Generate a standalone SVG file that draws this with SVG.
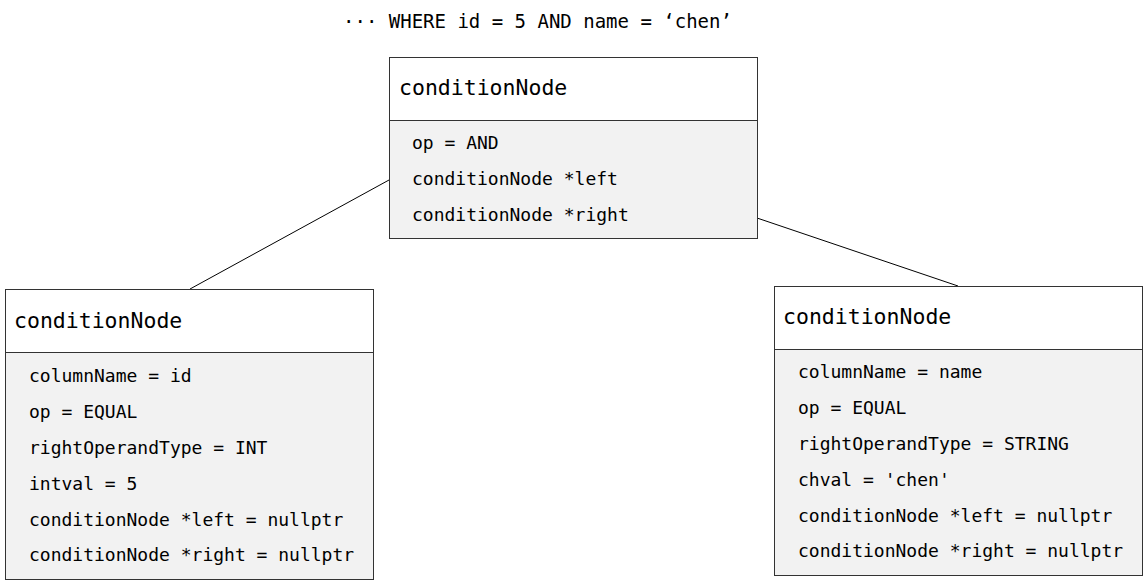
<svg xmlns="http://www.w3.org/2000/svg" width="1144" height="580" viewBox="0 0 1144 580">
<style>
text{font-family:"DejaVu Sans Mono","Liberation Mono",monospace;fill:#000}
.h{font-size:21.5px}
.b{font-size:18px}
.hd{fill:#fff;stroke:#333;stroke-width:1}
.bd{fill:#f2f2f2;stroke:#333;stroke-width:1}
.c{stroke:#000;stroke-width:1;fill:none}
</style>
<rect width="1144" height="580" fill="#fff"/>
<text class="b" x="343" y="28" style="font-size:19px">··· WHERE id = 5 AND name =  ‘chen’</text>
<g id="connectors">
<line class="c" x1="389" y1="180" x2="190" y2="289"/>
<line class="c" x1="757" y1="218" x2="958" y2="286"/>
</g>
<g id="root">
<rect class="hd" x="389.5" y="57.5" width="368" height="63"/>
<rect class="bd" x="389.5" y="120.5" width="368" height="118"/>
<text class="h" x="399" y="95">conditionNode</text>
<text class="b" x="412" y="149">op = AND</text>
<text class="b" x="412" y="185">conditionNode *left</text>
<text class="b" x="412" y="221">conditionNode *right</text>
</g>
<g id="left">
<rect class="hd" x="5.5" y="289.5" width="368" height="63"/>
<rect class="bd" x="5.5" y="352.5" width="368" height="227"/>
<text class="h" x="14" y="328">conditionNode</text>
<text class="b" x="29" y="382">columnName = id</text>
<text class="b" x="29" y="418">op = EQUAL</text>
<text class="b" x="29" y="454">rightOperandType = INT</text>
<text class="b" x="29" y="490">intval = 5</text>
<text class="b" x="29" y="526">conditionNode *left = nullptr</text>
<text class="b" x="29" y="561">conditionNode *right = nullptr</text>
</g>
<g id="right">
<rect class="hd" x="774.5" y="286.5" width="368" height="63"/>
<rect class="bd" x="774.5" y="349.5" width="368" height="226"/>
<text class="h" x="783" y="324">conditionNode</text>
<text class="b" x="798" y="378">columnName = name</text>
<text class="b" x="798" y="414">op = EQUAL</text>
<text class="b" x="798" y="450">rightOperandType = STRING</text>
<text class="b" x="798" y="486">chval = 'chen'</text>
<text class="b" x="798" y="522">conditionNode *left = nullptr</text>
<text class="b" x="798" y="557">conditionNode *right = nullptr</text>
</g>
</svg>
